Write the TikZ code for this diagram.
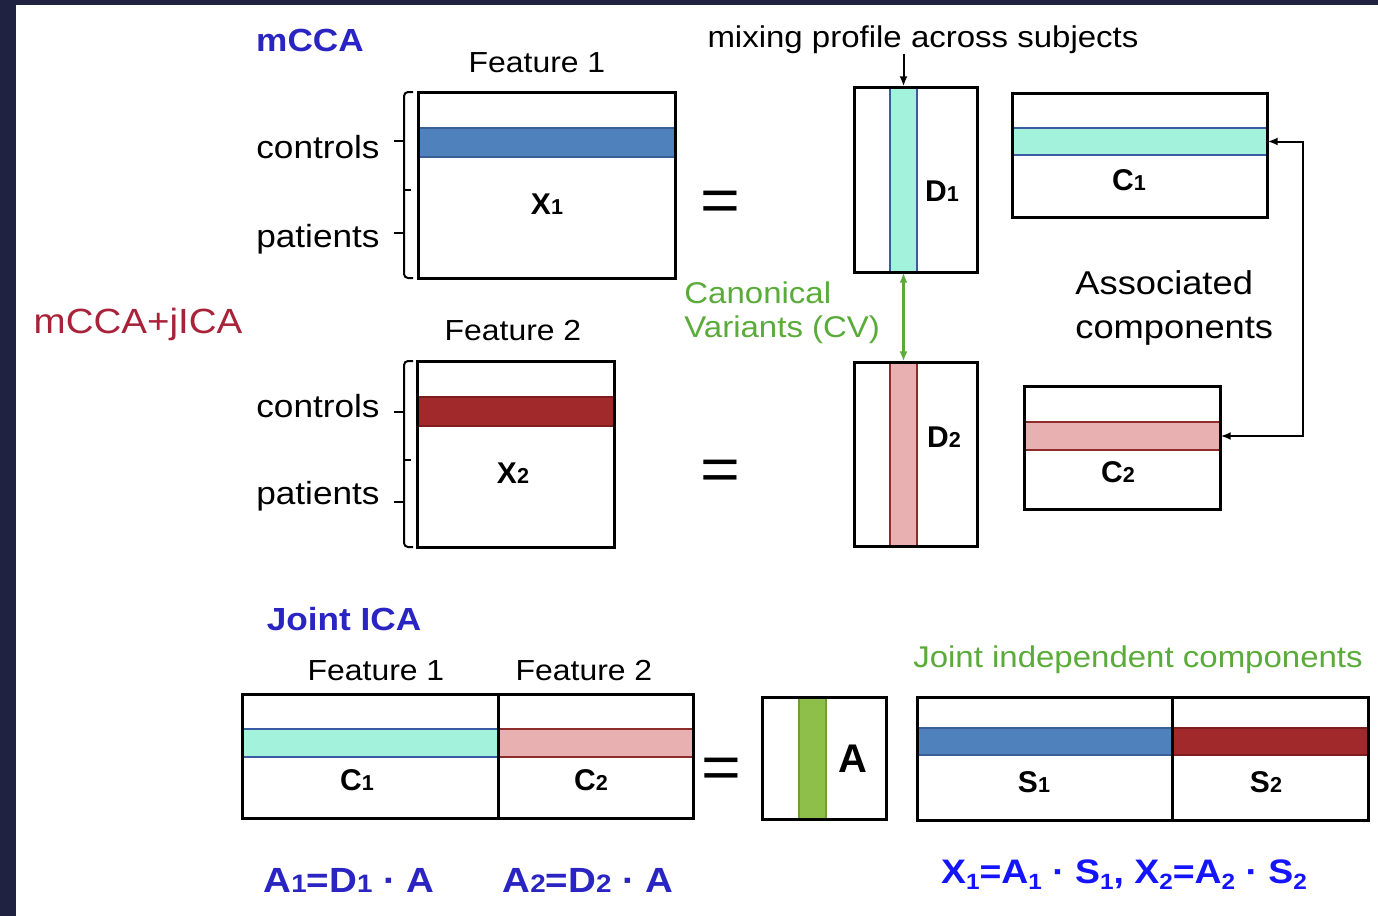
\documentclass[tikz,border=0pt]{standalone}
\usepackage{fontspec}
\setmainfont[FakeStretch=1.1]{Liberation Sans}
\newfontfamily\labfont{Liberation Sans}
\usetikzlibrary{arrows.meta}
\usetikzlibrary{positioning}
\usetikzlibrary{fit}

\definecolor{navyedge}{HTML}{1F2240}
\definecolor{bandblue}{HTML}{4F81BD}
\definecolor{bandblueedge}{HTML}{3A5F95}
\definecolor{bandred}{HTML}{A2292B}
\definecolor{bandrededge}{HTML}{7D1D1D}
\definecolor{bandcyan}{HTML}{A2F2DC}
\definecolor{bandcyanedge}{HTML}{3B5BA5}
\definecolor{bandpink}{HTML}{E8B0B0}
\definecolor{bandpinkedge}{HTML}{8E2C2C}
\definecolor{bandgreen}{HTML}{8DBF4A}
\definecolor{bandgreenedge}{HTML}{6E9E35}
\definecolor{cvgreen}{HTML}{5BAB3B}
\definecolor{titleblue}{HTML}{2A24C2}
\definecolor{titlered}{HTML}{A8233A}
\definecolor{formblue}{HTML}{1414FF}

\newcommand{\smidx}[1]{\scalebox{0.72}{#1}}
\newcommand{\lowidx}[1]{\raisebox{-0.35ex}{\scalebox{0.65}{#1}}}

\begin{document}
\begin{tikzpicture}[x=0.5pt,y=-0.5pt,
  box/.style={draw, line width=1.5pt, inner sep=0pt},
  band/.style={line width=0.7pt, inner sep=0pt},
  lab/.style={inner sep=0pt, anchor=base, font=\labfont\bfseries\fontsize{15}{15}\selectfont},
  txt/.style={inner sep=0pt, anchor=base, font=\fontsize{16}{16}\selectfont},
  feat/.style={txt, font=\fontsize{14.5}{14.5}\selectfont},
  eqsign/.style={inner sep=0pt, anchor=base, font=\fontsize{31}{31}\selectfont},
  brk/.style={line width=1pt, rounded corners=2pt},
  tips/.style={{Latex[length=5pt,width=4pt]}-{Latex[length=5pt,width=4pt]}}]
  \useasboundingbox (0,0) rectangle (1378,916);
  %frame
  \fill[navyedge] (0,0) rectangle (1378,916);
  \fill[white] (16,5) rectangle (1378,916);

  %mCCA part
  \node[txt, font=\bfseries\fontsize{16}{16}\selectfont, text=titleblue] (mcca) at (310,51) {mCCA};
  \node[txt, font=\fontsize{17.5}{17.5}\selectfont, text=titlered] (mccajica) at (138,333) {mCCA+jICA};
  \node[feat] (feata) at (537,72) {Feature 1};
  \node[feat] (featb) at (513,340) {Feature 2};
  \node[txt, font=\fontsize{15}{15}\selectfont] (mix) at (923,47) {mixing profile across subjects};

  %bands first, boxes on top
  \node[band, fill=bandblue, draw=bandblueedge, fit={(418,128) (675,157)}] (xaband) {};
  \node[band, fill=bandred, draw=bandrededge, fit={(417,397) (614,426)}] (xbband) {};
  \node[band, fill=bandcyan, draw=bandcyanedge, fit={(890,87) (917,272)}] (daband) {};
  \node[band, fill=bandpink, draw=bandpinkedge, fit={(890,362) (917,546)}] (dbband) {};
  \node[band, fill=bandcyan, draw=bandcyanedge, fit={(1012,128) (1267,155)}] (caband) {};
  \node[band, fill=bandpink, draw=bandpinkedge, fit={(1024,422) (1220,450)}] (cbband) {};

  \node[box, fit={(418,92) (675,278)}] (xa) {};
  \node[box, fit={(417,361) (614,547)}] (xb) {};
  \node[box, fit={(854,87) (977,272)}] (da) {};
  \node[box, fit={(854,362) (977,546)}] (db) {};
  \node[box, fit={(1012,93) (1267,217)}] (ca) {};
  \node[box, fit={(1024,386) (1220,509)}] (cb) {};

  \node[lab] (xalab) at (547,214) {X\smidx{1}};
  \node[lab] (xblab) at (513,483) {X\smidx{2}};
  \node[lab] (dalab) at (942,201) {D\smidx{1}};
  \node[lab] (dblab) at (944,447) {D\smidx{2}};
  \node[lab] (calab) at (1129,190) {C\smidx{1}};
  \node[lab] (cblab) at (1118,482) {C\smidx{2}};

  \node[eqsign] (eqa) at (720,221) {=};
  \node[eqsign] (eqb) at (720,490) {=};

  %braces
  \draw[brk] (413,92) -- (404,92) -- (404,278) -- (413,278);
  \draw[brk] (404,190) -- (411,190);
  \draw[brk] (404,141) -- (394,141);
  \draw[brk] (404,233) -- (394,233);
  \draw[brk] (413,361) -- (404,361) -- (404,547) -- (413,547);
  \draw[brk] (404,460) -- (411,460);
  \draw[brk] (404,412) -- (394,412);
  \draw[brk] (404,502) -- (394,502);
  \node[txt, anchor=base east] (ctrla) at (380,158) {controls};
  \node[txt, anchor=base east] (pata) at (380,247) {patients};
  \node[txt, anchor=base east] (ctrlb) at (380,417) {controls};
  \node[txt, anchor=base east] (patb) at (380,504) {patients};

  %arrows
  \draw[-{Latex[length=5pt,width=4pt]}, line width=1pt] (daband.north |- mix.south) -- (daband.north);
  \draw[tips, line width=1.2pt, cvgreen] (daband.south) -- (dbband.north);
  \draw[tips, line width=1pt] (caband.east) -- ++(35,0) |- (cbband.east);

  \node[txt, anchor=base west, font=\fontsize{15}{15}\selectfont, text=cvgreen] (canon) at (684,303) {Canonical};
  \node[txt, anchor=base west, font=\fontsize{15}{15}\selectfont, text=cvgreen] (variants) at (684,337) {Variants (CV)};
  \node[txt, anchor=base west, font=\fontsize{16.5}{16.5}\selectfont] (assoc) at (1075,294) {Associated};
  \node[txt, anchor=base west, font=\fontsize{16.5}{16.5}\selectfont] (comps) at (1075,338) {components};

  %joint ICA part
  \node[txt, font=\bfseries\fontsize{16}{16}\selectfont, text=titleblue] (jica) at (344,630) {Joint ICA};
  \node[feat] (featc) at (376,680) {Feature 1};
  \node[feat] (featd) at (584,680) {Feature 2};
  \node[txt, font=\fontsize{15}{15}\selectfont, text=cvgreen] (jic) at (1138,667) {Joint independent components};

  \node[band, fill=bandcyan, draw=bandcyanedge, fit={(242,729) (498,757)}] (jcaband) {};
  \node[band, fill=bandpink, draw=bandpinkedge, fit={(498,729) (693,757)}] (jcbband) {};
  \node[band, fill=bandgreen, draw=bandgreenedge, fit={(799,697) (826,819)}] (amixband) {};
  \node[band, fill=bandblue, draw=bandblueedge, fit={(917,728) (1172,755)}] (saband) {};
  \node[band, fill=bandred, draw=bandrededge, fit={(1172,728) (1368,755)}] (sbband) {};

  \node[box, fit={(242,694) (498,818)}] (jca) {};
  \node[box, fit={(498,694) (693,818)}] (jcb) {};
  \node[box, fit={(762,697) (886,819)}] (amix) {};
  \node[box, fit={(917,697) (1172,820)}] (sa) {};
  \node[box, fit={(1172,697) (1368,820)}] (sb) {};

  \node[lab] (jcalab) at (357,790) {C\smidx{1}};
  \node[lab] (jcblab) at (591,790) {C\smidx{2}};
  \node[lab, font=\labfont\bfseries\fontsize{20}{20}\selectfont] (amixlab) at (853,772) {A};
  \node[lab] (salab) at (1034,792) {S\smidx{1}};
  \node[lab] (sblab) at (1266,792) {S\smidx{2}};
  \node[eqsign] (eqc) at (721,788) {=};

  \node[txt, font=\bfseries\fontsize{17.5}{17.5}\selectfont, text=titleblue] (forma) at (349,892) {A\smidx{1}=D\smidx{1} · A};
  \node[txt, font=\bfseries\fontsize{17.5}{17.5}\selectfont, text=titleblue] (formb) at (588,892) {A\smidx{2}=D\smidx{2} · A};
  \node[txt, font=\bfseries\fontsize{17}{17}\selectfont, text=formblue] (formx) at (1124,883) {X\lowidx{1}=A\lowidx{1} · S\lowidx{1}, X\lowidx{2}=A\lowidx{2} · S\lowidx{2}};
\end{tikzpicture}
\end{document}
